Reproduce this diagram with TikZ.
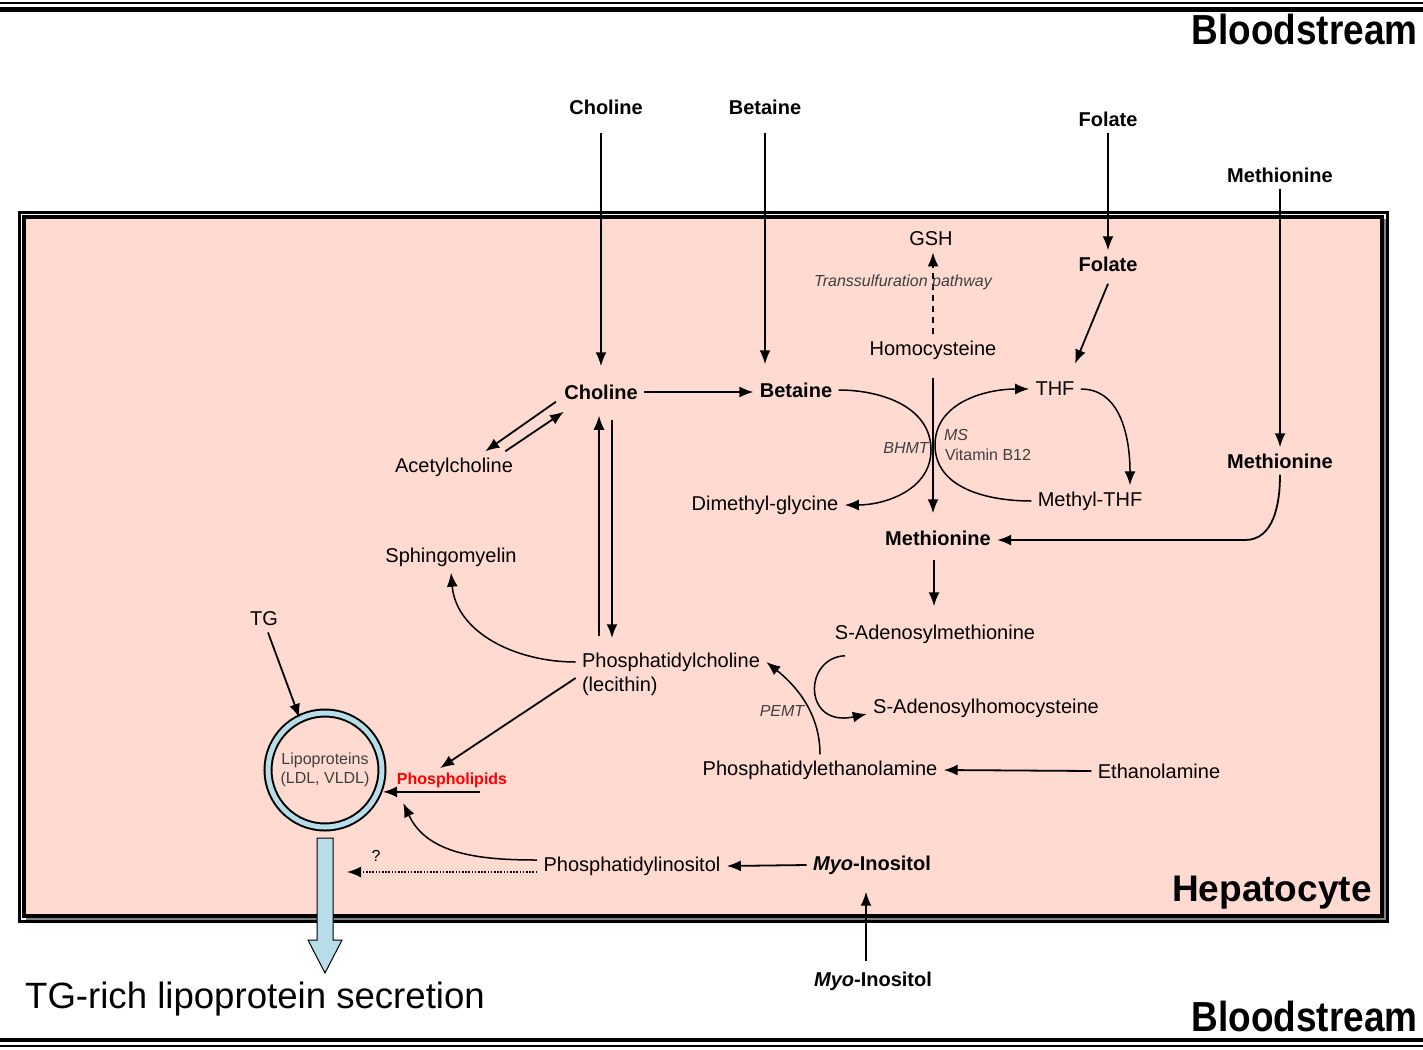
\documentclass[tikz,border=0pt]{standalone}
\usepackage{fontspec}
\setmainfont{Liberation Sans}
\usetikzlibrary{positioning,arrows.meta}
\definecolor{hepapink}{RGB}{255,218,208}
\definecolor{lipblue}{RGB}{183,222,232}
\definecolor{enzgray}{RGB}{64,64,64}

\begin{document}
\begin{tikzpicture}[x=0.5pt, y=-0.5pt, >={Latex[length=7pt,width=5.5pt]},
  lbl/.style={font=\fontsize{10}{12}\selectfont, inner sep=3pt},
  blbl/.style={font=\fontsize{10}{12}\selectfont\bfseries, inner sep=3pt},
  sml/.style={font=\fontsize{8}{9.5}\selectfont, inner sep=2pt},
  enz/.style={font=\fontsize{8}{9.5}\selectfont\itshape, text=enzgray, inner sep=1pt},
  bigl/.style={font=\fontsize{18.5}{22}\selectfont\bfseries, inner sep=0pt},
  arr/.style={->, line width=0.9pt},
  curv/.style={->, line width=0.75pt}]

\useasboundingbox (0,0) rectangle (1423,1049);

% bloodstream borders
\draw[line width=1pt] (0,3) -- (1423,3);
\draw[line width=2.5pt] (0,9) -- (1423,9);
\draw[line width=2pt] (0,1040) -- (1423,1040);
\draw[line width=1pt] (0,1046) -- (1423,1046);

% hepatocyte
\draw[line width=1.3pt] (19.5,212.5) rectangle (1387.5,921.5);
\draw[line width=2pt, fill=hepapink] (24,217) rectangle (1382,916);
\draw[gray, line width=0.9pt] (1385,219) -- (1385,919) -- (26,919);

%============ labels
\node[bigl, anchor=east] (BloodT) at (1418,29) {\scalebox{0.88}[1]{\fontsize{21}{24}\selectfont Bloodstream}};
\node[bigl, anchor=east] (BloodB) at (1418,1016) {\scalebox{0.88}[1]{\fontsize{21}{24}\selectfont Bloodstream}};
\node[bigl, anchor=east] (Hep) at (1372,893) {Hepatocyte};

\node[blbl] (ChoT) at (606,107) {Choline};
\node[blbl] (BetT) at (765,107) {Betaine};
\node[blbl] (FolT) at (1108,119) {Folate};
\node[blbl] (MetT) at (1280,175) {Methionine};

\node[lbl] (GSH) at (931,239) {GSH};
\node[blbl] (Fol) at (1108,264) {Folate};
\node[lbl] (Hcy) at (933,350) {Homocysteine};
\node[lbl] (THF) at (1055,389) {THF};
\node[blbl] (Cho) at (601,392) {Choline};
\node[blbl] (Bet) at (796,390) {Betaine};
\node[lbl] (AcCh) at (454,467) {Acetylcholine};
\node[blbl] (MetR) at (1280,461) {Methionine};
\node[lbl] (DMG) at (765,505) {Dimethyl-glycine};
\node[lbl] (MTHF) at (1090,501) {Methyl-THF};
\node[blbl] (MetC) at (938,538) {Methionine};
\node[lbl] (Sph) at (451,557) {Sphingomyelin};
\node[lbl] (TG) at (264,619) {TG};
\node[lbl] (SAM) at (935,634) {S-Adenosylmethionine};
\node[lbl] (PC) at (671,662) {Phosphatidylcholine};
\node[lbl, anchor=west] (Lec) at (PC.west |- 0,686) {(lecithin)};
\node[lbl] (SAH) at (986,708) {S-Adenosylhomocysteine};
\node[circle, draw, line width=1pt, double=lipblue, double distance=2.5pt, minimum size=57pt, inner sep=0pt, align=center, font=\fontsize{8}{9.5}\selectfont, text=enzgray] (Lip) at (325,770) {Lipoproteins\\(LDL, VLDL)};
\node[sml, font=\fontsize{8}{9.5}\selectfont\bfseries, text=red] (PL) at (452,780) {Phospholipids};
\node[lbl] (PE) at (820,770) {Phosphatidylethanolamine};
\node[lbl] (Eth) at (1159,771) {Ethanolamine};
\node[lbl] (PI) at (632,866) {Phosphatidylinositol};
\node[blbl] (MyoIn) at (872,865) {\textit{Myo}-Inositol};
\node[blbl] (MyoOut) at (873,981) {\textit{Myo}-Inositol};
\node[font=\fontsize{18.3}{22}\selectfont, inner sep=0pt] (Sec) at (255,999) {TG-rich lipoprotein secretion};

\coordinate (bh) at (931,450);
\coordinate (ms) at (935,445);
\coordinate (mc) at (1245,540);
\coordinate (qend) at (347,872);

%============ uptake from blood
\draw[arr, shorten <=6pt, shorten >=6pt] (ChoT.south -| Cho.north) -- (Cho.north);
\draw[arr, shorten <=6pt, shorten >=6pt] (BetT.south) -- (BetT.south |- Bet.north);
\draw[arr] (FolT) -- (Fol);
\draw[arr] (MetT) -- (MetR);
\draw[arr, shorten <=2pt, shorten >=5.5pt] ([xshift=-3.5pt]MyoOut.north) -- ([xshift=-3.5pt]MyoOut.north |- MyoIn.south);

%============ methionine cycle
\draw[->, line width=0.8pt, dash pattern=on 3pt off 2.5pt] (Hcy.north) -- (Hcy.north |- GSH.south);
\node[enz] (TSP) at (903,282) {Transsulfuration pathway};
\draw[arr] ([yshift=-3pt]Fol.south) -- ([xshift=10pt,yshift=6pt]THF.north);
\draw[arr, shorten <=6pt, shorten >=5.5pt] (Hcy.south) -- (Hcy.south |- MetC.north);
\draw[curv] (Bet.east) to[out=0,in=90] (bh) to[out=-90,in=0] (DMG.east);
\draw[curv] (MTHF.west) to[out=180,in=-90] (ms) to[out=90,in=180] (THF.west);
\draw[curv] (THF.east) to[out=0,in=90] ([xshift=20pt]MTHF.north);
\node[enz] (BHMT) at (906,448) {BHMT};
\node[enz] (MS) at (956,435) {MS};
\node[sml, text=enzgray] (B12) at (988,455) {Vitamin B12};
\draw[arr] (MetR.south) to[out=-90,in=0] (mc) -- (mc -| MetC.east);
\draw[arr, shorten <=4pt, shorten >=6pt] ([xshift=-2pt]MetC.south) -- ([xshift=-2pt]MetC.south |- SAM.north);

%============ choline
\draw[arr] (Cho.east) -- (Cho.east -| Bet.west);
\draw[arr] ([shift={(-1pt,2pt)}]Cho.south west) -- ([xshift=-17pt]AcCh.north east);
\draw[arr] ([xshift=-7pt]AcCh.north east) -- ([xshift=3pt,yshift=-3pt]Cho.south west);
\draw[arr, line width=0.7pt, shorten <=5pt, shorten >=5pt] ([xshift=-1pt]Cho.south |- PC.north) -- ([xshift=-1pt]Cho.south);
\draw[arr, line width=1.2pt, shorten <=7pt, shorten >=4pt] ([xshift=5.5pt]Cho.south) -- ([xshift=5.5pt]Cho.south |- PC.north);
\draw[curv] (PC.west) to[out=180,in=-85] (Sph.south);

%============ PE / PEMT
\draw[curv] ([xshift=-45pt,yshift=-3pt]SAM.south) .. controls +(-42,2) and +(-64,14) .. ([yshift=-3pt]SAH.west);
\draw[curv] (PE.north) .. controls +(0,-45) and +(25,20) .. (PC.east);
\node[enz] (PEMT) at (782,711) {PEMT};
\draw[arr] (Eth.west) -- (PE.east);

%============ lipoproteins
\draw[arr] ([xshift=2pt]TG.south) -- (Lip.116);
\draw[arr] ([yshift=4pt]Lec.west) -- ([xshift=-6pt]PL.north);
\draw[arr] ([xshift=14pt]PL.south) -- (Lip.east |- PL.south);
\draw[curv] ([yshift=3pt]PI.west) to[out=180,in=-65] ([shift={(14pt,-2pt)}]Lip.-30);
\draw[->, line width=0.8pt, dash pattern=on 0.8pt off 0.8pt] ([yshift=-3pt]PI.west) -- (qend);
\node[sml] (Q) at (376,856) {?};
\draw[arr] (MyoIn.west) -- (PI.east);
\draw[line width=0.5pt, fill=lipblue] (317,838) -- (333,838) -- (333,940) -- (342,940) -- (325,973) -- (308,940) -- (317,940) -- cycle;

\end{tikzpicture}
\end{document}
